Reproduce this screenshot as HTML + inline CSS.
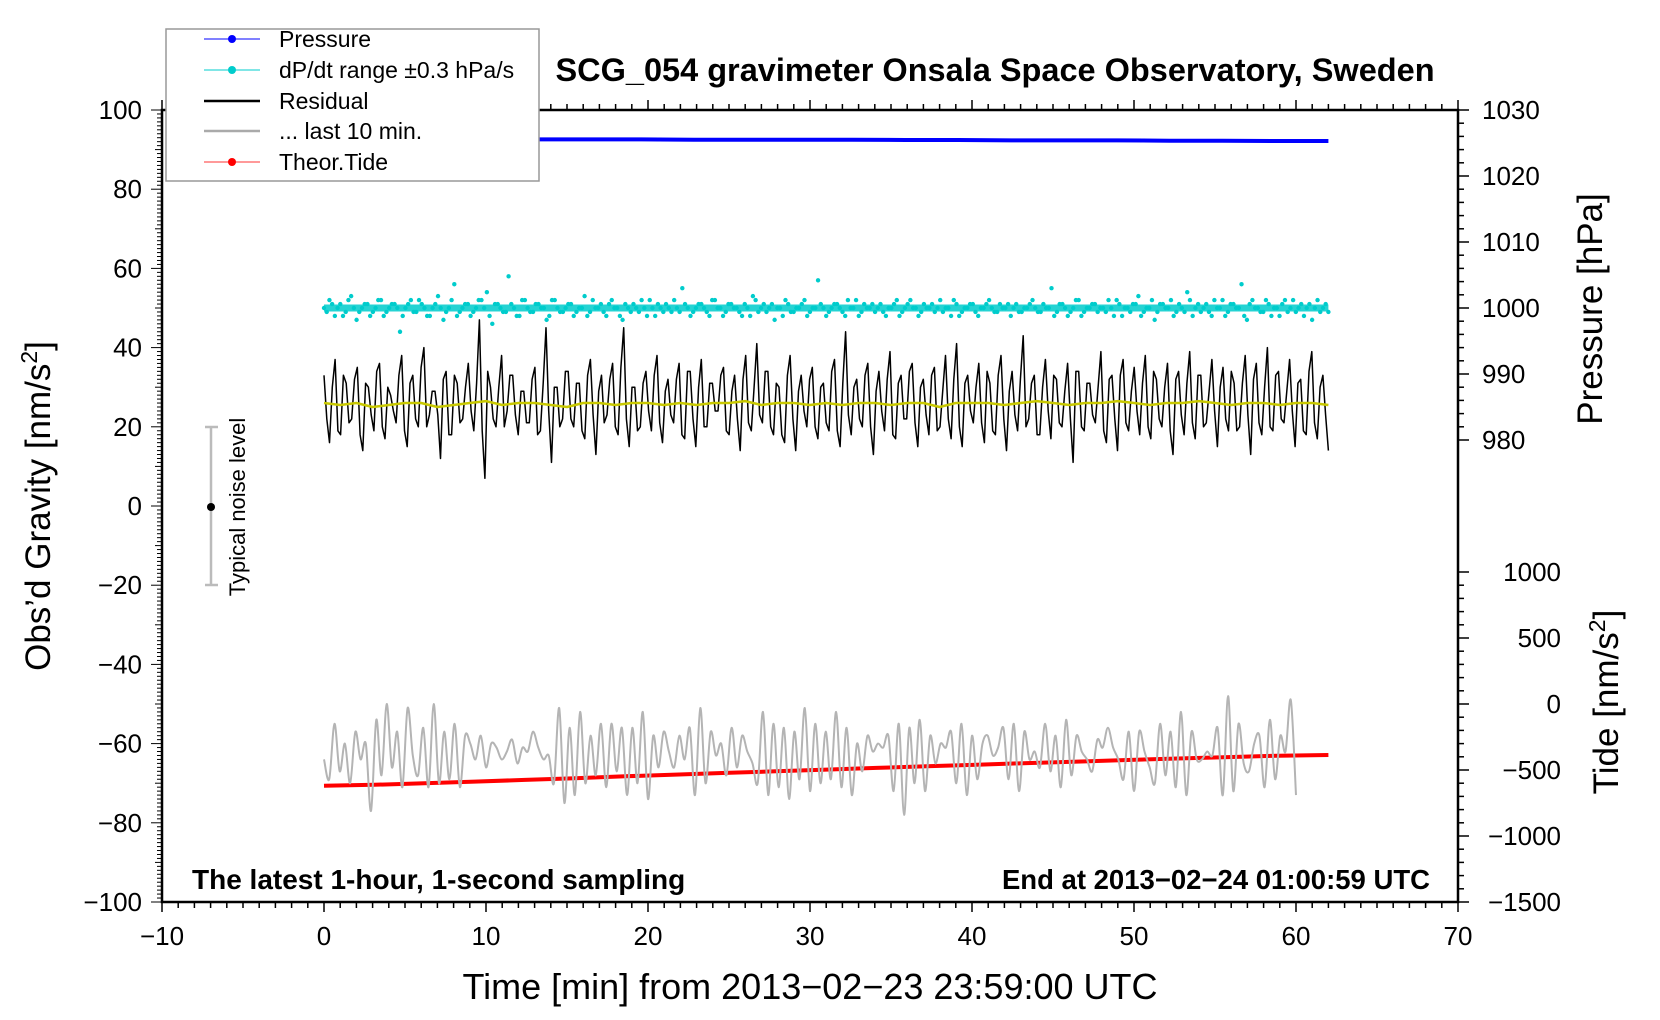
<!DOCTYPE html>
<html><head><meta charset="utf-8"><style>
html,body{margin:0;padding:0;background:#fff;}
svg{display:block;font-family:"Liberation Sans",Arial,sans-serif;}
</style></head><body>
<svg id="chart" width="1660" height="1020" viewBox="0 0 1660 1020">
<g id="marks"></g>
<g id="axes"></g>
<rect x="162" y="110" width="1296" height="792" fill="none" stroke="#000" stroke-width="2.5"/>
<text x="995" y="81" text-anchor="middle" font-size="32.5" font-weight="bold">SCG_054 gravimeter Onsala Space Observatory, Sweden</text>
<text x="192" y="889" font-size="28" font-weight="bold">The latest 1-hour, 1-second sampling</text>
<text x="1430" y="889" text-anchor="end" font-size="27.5" font-weight="bold">End at 2013−02−24 01:00:59 UTC</text>
<text x="810" y="999" text-anchor="middle" font-size="36">Time [min] from 2013−02−23 23:59:00 UTC</text>
<text transform="translate(50,506) rotate(-90)" text-anchor="middle" font-size="35">Obs’d Gravity [nm/s<tspan baseline-shift="super" font-size="23">2</tspan>]</text>
<text transform="translate(1602,309) rotate(-90)" text-anchor="middle" font-size="35">Pressure [hPa]</text>
<text transform="translate(1618,702) rotate(-90)" text-anchor="middle" font-size="35">Tide [nm/s<tspan baseline-shift="super" font-size="23">2</tspan>]</text>
<g>
<line x1="211" y1="427" x2="211" y2="585" stroke="#bbb" stroke-width="2.5"/>
<line x1="205" y1="427" x2="218" y2="427" stroke="#bbb" stroke-width="2.5"/>
<line x1="205" y1="585" x2="218" y2="585" stroke="#bbb" stroke-width="2.5"/>
<circle cx="211" cy="507" r="4" fill="#000"/>
<text transform="translate(245,507) rotate(-90)" text-anchor="middle" font-size="22">Typical noise level</text>
</g>
<g>
<rect x="166" y="29" width="373" height="152" fill="#fff" stroke="#999" stroke-width="1.5"/>
<g><line x1="204" y1="39" x2="260" y2="39" stroke="#00f" stroke-width="1"/><circle cx="232" cy="39" r="4" fill="#00f"/><text x="279" y="47" font-size="23">Pressure</text></g>
<g><line x1="204" y1="70" x2="260" y2="70" stroke="#0cc" stroke-width="1"/><circle cx="232" cy="70" r="4" fill="#0cc"/><text x="279" y="78" font-size="23">dP/dt range ±0.3 hPa/s</text></g>
<g><line x1="204" y1="101" x2="260" y2="101" stroke="#000" stroke-width="2.5"/><text x="279" y="109" font-size="23">Residual</text></g>
<g><line x1="204" y1="131" x2="260" y2="131" stroke="#aaa" stroke-width="2.5"/><text x="279" y="139" font-size="23">... last 10 min.</text></g>
<g><line x1="204" y1="162" x2="260" y2="162" stroke="#f33" stroke-width="1"/><circle cx="232" cy="162" r="4" fill="#f00"/><text x="279" y="170" font-size="23">Theor.Tide</text></g>
</g>
</svg>
<script>
const xTicks=[-10,0,10,20,30,40,50,60,70];
const gTicks=[100,80,60,40,20,0,-20,-40,-60,-80,-100];
const pTicks=[1030,1020,1010,1000,990,980];
const tTicks=[1000,500,0,-500,-1000,-1500];
const pressure=[1025.6,1025.6,1025.6,1025.6,1025.55,1025.55,1025.55,1025.5,1025.5,1025.5,1025.5,1025.45,1025.45,1025.4,1025.4,1025.4,1025.35,1025.35,1025.3,1025.3];
const tide=[-620,-612,-600,-588,-575,-562,-548,-535,-522,-510,-497,-484,-472,-460,-448,-436,-424,-413,-402,-392,-386];
const residual=[33,16,37,18,31,22,35,14,30,19,36,17,28,21,38,15,33,20,40,23,29,12,34,18,31,22,36,19,47,7,30,20,38,24,33,18,29,21,35,19,45,11,30,22,34,20,31,17,37,13,33,23,36,18,45,15,30,20,34,19,38,16,32,21,36,17,34,15,37,20,31,24,35,18,33,14,38,19,41,21,34,18,30,16,38,14,33,20,35,17,31,19,37,15,44,18,32,20,36,13,34,19,39,17,33,22,36,15,32,18,35,20,38,17,41,15,33,21,36,16,31,18,38,14,34,19,43,22,33,18,37,17,32,20,36,11,34,19,31,21,39,16,33,14,37,19,35,18,38,17,32,20,36,13,34,18,39,17,33,21,37,15,35,19,31,20,38,13,36,18,40,19,34,21,37,15,32,18,39,17,33,14];
const residualMid=[22,30,19,33,21,32,18,31,23,34,20,30,24,33,19,31,22,35,20,29,23,32,18,33,21,30,24,31,19,34,22,30,20,33,23,29,21,32,18,31,24,30,20,34,22,31,19,33,23,29,21,32,20,35,22,30,19,31,24,33,21,29,23,32,18,34,22,30,20,31,24,33,19,29,22,32,21,30,23,34,20,31,18,33,22,29,24,32,20,30,21,34,19,31,23,30,22,33,20,29,24,32,18,31,22,34,21,30,23,33,19,29,22,32,20,31,24,30,21,34,19,33,22,29,23,32,20,31,18,30,24,33,21,29,22,34,20,31,23,30,19,32,22,33,21,29,24,31,20,34,22,30,19,32,23,31,21,33,20,29,24,30,22,34,19,31,23,32,21,30,20,33,22,29,24,31,19,34,21,30,23,32];
const smooth=[26,25.5,26,25,25.5,26,26,25,25.5,26,26.5,25.5,26,26,25.5,25,26,26,25.5,26,26,25.5,26,25.5,26,26,26.5,25.5,26,26,25.5,26,25.5,26,26,25.5,26,26,25,26,26,26,25.5,26,26.5,26,25.5,26,26,26.5,26,25.5,26,26,26.5,26,25.5,26,26,25.5,26,26,25.5];
const dpdt=[50,52,48,51,49,53,47,50,51,49,52,48,50,51,44,50,52,49,51,48,50,53,47,50,56,49,51,48,50,52,54,46,51,49,58,50,48,52,49,51,50,47,52,50,49,51,48,50,53,49,50,51,48,52,50,47,50,51,49,50,52,48,50,51,49,50,55,50,49,51,50,48,52,50,49,51,50,48,50,53,49,51,50,47,50,52,49,50,51,48,50,57,50,49,51,50,48,50,52,49,50,51,50,49,50,51,48,50,52,50,49,50,51,50,49,50,52,48,50,51,49,50,51,50,49,50,51,50,49,50,51,50,49,50,55,49,51,48,50,52,49,50,51,50,49,50,52,48,50,51,53,49,50,47,51,50,52,49,50,54,48,51,50,49,52,50,48,51,50,56,47,52,50,49,51,50,48,52,50,49,51,50,47,52,50,49];
const dpdtMid=[49,51,50,48,52,50,49,51,48,50,52,49,51,50,48,51,49,52,50,48,51,50,49,52,48,50,51,49,52,50,48,51,50,49,51,48,52,50,49,51,50,48,52,49,50,51,49,50,48,52,50,49,51,50,48,51,49,50,52,48,50,51,49,50,52,49,51,48,50,51,49,52,50,48,51,50,49,51,48,52,50,49,51,50,48,51,49,50,52,49,50,51,48,50,51,49,52,50,48,51,50,49,51,48,50,52,49,51,50,48,51,50,49,52,50,48,51,49,50,51,48,50,52,49,51,50,48,51,49,50,52,49,51,50,48,51,50,49,52,48,50,51,49,50,52,48,51,50,49,51,48,50,52,49,51,50,48,51,49,52,50,49,51,48,50,52,49,51,50,48,51,50,49,52,48,50,51,49,52,50,48,51,50,49,51,48];
const last10=[-64,-69,-55,-67,-60,-70,-57,-64,-60,-77,-54,-68,-50,-66,-57,-71,-51,-63,-68,-56,-71,-50,-70,-57,-69,-55,-71,-58,-60,-64,-58,-66,-60,-61,-64,-62,-59,-65,-61,-62,-57,-61,-64,-63,-70,-51,-75,-56,-73,-52,-70,-58,-68,-55,-71,-55,-67,-56,-73,-56,-70,-52,-74,-58,-66,-57,-62,-66,-58,-64,-56,-73,-51,-70,-57,-63,-60,-68,-56,-66,-58,-62,-65,-70,-52,-73,-55,-71,-56,-74,-57,-69,-51,-72,-55,-70,-57,-69,-52,-71,-56,-73,-60,-67,-58,-62,-60,-61,-58,-72,-55,-78,-56,-70,-54,-72,-58,-65,-60,-61,-57,-70,-55,-73,-58,-69,-60,-58,-63,-61,-56,-69,-55,-72,-57,-64,-62,-66,-55,-67,-58,-71,-54,-68,-58,-62,-64,-67,-59,-61,-56,-61,-64,-69,-57,-72,-57,-62,-66,-70,-55,-68,-57,-71,-52,-73,-57,-64,-64,-62,-63,-56,-73,-48,-72,-55,-65,-67,-60,-58,-71,-54,-69,-58,-62,-49,-73];

const X0=162,X1=1458,Y0=110,Y1=902;
const xs=v=>X0+(v+10)/80*(X1-X0);
const gy=v=>Y1-(v+100)/200*(Y1-Y0);
const py=v=>Y0+(1030-v)*6.6;
const ty=v=>Y1-(v+1500)*0.132;
const NS="http://www.w3.org/2000/svg";
const marks=document.getElementById('marks');
const axes=document.getElementById('axes');
function mk(tag,attrs,parent){const e=document.createElementNS(NS,tag);for(const k in attrs)e.setAttribute(k,attrs[k]);parent.appendChild(e);return e;}
function interleave(a,b){const out=[];for(let i=0;i<a.length;i++){out.push(a[i]);if(i<b.length&&i<a.length-1)out.push(b[i]);}return out;}
function series(arr,t0,t1,yf,name,stroke,w){
  const pts=arr.map((v,i)=>xs(t0+(t1-t0)*i/(arr.length-1)).toFixed(1)+','+yf(v).toFixed(1)).join(' ');
  const p=mk('polyline',{points:pts,fill:'none',stroke:stroke,'stroke-width':w,'stroke-linejoin':'round'},marks);
  
  
  return p;
}
function smoothSeries(arr,t0,t1,yf,name,stroke,w){
  const P=arr.map((v,i)=>[xs(t0+(t1-t0)*i/(arr.length-1)),yf(v)]);
  let d='M'+P[0][0].toFixed(1)+','+P[0][1].toFixed(1);
  for(let i=0;i<P.length-1;i++){
    const p0=P[Math.max(0,i-1)],p1=P[i],p2=P[i+1],p3=P[Math.min(P.length-1,i+2)];
    const c1=[p1[0]+(p2[0]-p0[0])/6,p1[1]+(p2[1]-p0[1])/6];
    const c2=[p2[0]-(p3[0]-p1[0])/6,p2[1]-(p3[1]-p1[1])/6];
    d+=' C'+c1[0].toFixed(1)+','+c1[1].toFixed(1)+' '+c2[0].toFixed(1)+','+c2[1].toFixed(1)+' '+p2[0].toFixed(1)+','+p2[1].toFixed(1);
  }
  const p=mk('path',{d:d,fill:'none',stroke:stroke,'stroke-width':w},marks);
  
  
}
series(pressure,0,62,py,'pressure-line','#0000ff',4);
const dAll=interleave(dpdt,dpdtMid);
dAll.forEach((v,i)=>{
  const c=mk('circle',{cx:xs(62*i/(dAll.length-1)),cy:gy(v),r:2.2,fill:'#00cccc'},marks);
  
  
});
const band=mk('line',{x1:xs(0),y1:gy(50),x2:xs(62),y2:gy(50),stroke:'#00cccc','stroke-width':7,opacity:0.85},marks);


series(interleave(residual,residualMid),0,62,gy,'residual-line','#000',1.5);
series(smooth,0,62,gy,'residual-smoothed-line','#c8c800',2.5);
series(tide,0,62,ty,'theor-tide-line','#ff0000',4);
smoothSeries(last10,0,60,gy,'last-10-min-line','#b4b4b4',2);

function tick(x1,y1,x2,y2,w){mk('line',{x1,y1,x2,y2,stroke:'#000','stroke-width':w},axes);}
function label(x,y,txt,anchor,name){const t=mk('text',{x,y,'font-size':26,'text-anchor':anchor},axes);t.textContent=txt;}
const fmt=v=>String(v).replace('-','−');
for(let v=-10;v<=70;v++){const x=xs(v);const maj=v%10===0;tick(x,Y1,x,Y1+(maj?10:6),1.5);tick(x,Y0,x,Y0-(maj?10:6),1.5);}
xTicks.forEach(v=>label(xs(v),Y1+43,fmt(v),'middle','x-tick-label'));
for(let v=-100;v<=100;v++){const y=gy(v);const maj=v%20===0;tick(X0,y,X0-(maj?11:(v%10===0?7:5)),y,1);}
gTicks.forEach(v=>label(X0-20,gy(v)+9,fmt(v),'end','y-tick-label'));
for(let v=980;v<=1030;v+=2){const y=py(v);tick(X1,y,X1+(v%10===0?11:6),y,1.5);}
pTicks.forEach(v=>label(X1+24,py(v)+9,fmt(v),'start','pressure-tick-label'));
for(let v=-1500;v<=1000;v+=100){const y=ty(v);tick(X1,y,X1+(v%500===0?11:6),y,1.5);}
tTicks.forEach(v=>label(X1+103,ty(v)+9,fmt(v),'end','tide-tick-label'));
</script>
</body></html>
